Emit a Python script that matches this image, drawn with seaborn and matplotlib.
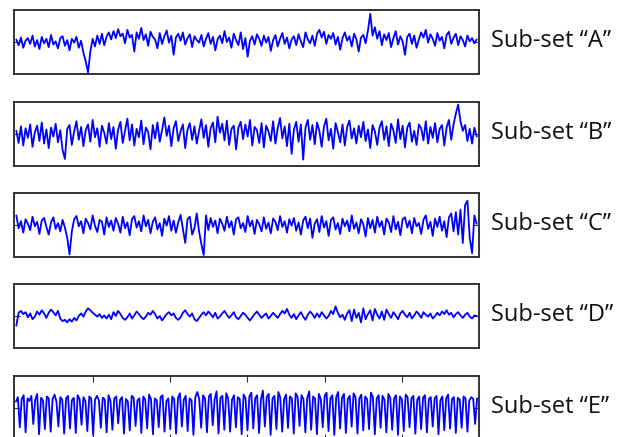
import numpy as np
import pandas as pd
import seaborn as sns
import matplotlib.pyplot as plt

# signal traces (amplitude, arbitrary units)
sub_a = [8, -10, 14, -18, 4, 12, -6, 20, -14, 6, -22, 16, -4, 10, -16, 22, -8, 2, -20, 12,
         18, -12, 6, -26, 10, -2, 16, -18, 4, -34, -60, -95, -30, 10, -14, 20, -6, 26, -10, 16,
         30, 8, 34, 12, 40, 18, 26, -4, 38, 14, 22, -30, 30, 10, 44, 6, 24, -12, 32, 16,
         8, -20, 28, -6, 18, 36, -2, 20, -40, 14, 26, 4, 30, -8, 12, 24, -16, 18, 6, -2,
         22, -14, 10, 28, -6, 16, -26, 8, 20, -4, 34, 0, 14, -18, 26, 6, -10, 30, -22, 12,
         -46, 4, 18, -8, 24, 10, -12, 20, -2, 16, -28, 6, 22, -14, 10, 28, -6, 14, -20, 8,
         18, -10, 24, 2, -16, 30, 8, -4, 20, -12, 26, 38, 14, 32, -6, 22, 10, 28, -8, 16,
         -24, 12, 30, 4, 18, -14, 26, 8, -30, 14, 22, -4, 36, 88, 20, 46, 10, 34, -10, 24,
         6, 28, -16, 12, 34, -8, 18, 2, -40, 16, 26, -6, 20, -18, 8, 30, 14, 38, -2, 24,
         10, -12, 28, 4, 16, -20, 22, 32, -6, 14, 26, -10, 18, 6, -14, 20, 2, 12, -4, 8]

sub_b = [10, -28, 24, -36, 18, -12, 30, -40, 6, 26, -22, 36, -30, 14, -44, 20, -8, 32, -26, 12,
         -50, -78, 16, 28, -34, 8, 40, -18, 22, -38, 12, 30, -24, 44, -10, 18, -40, 26, 4, -30,
         34, -16, 22, -46, 14, 38, -28, 10, 48, -20, 30, -36, 16, -10, 42, -32, 20, 6, -48, 28,
         -14, 36, -24, 12, 52, -6, 26, -38, 18, 40, -22, 8, 30, -44, 14, 34, -18, 24, -30, 10,
         46, -12, 28, -40, 18, 36, -26, 54, 4, 32, -20, 42, -34, 16, 26, -48, 20, 38, -16, 30,
         -8, 44, -36, 22, 12, -28, 34, -42, 26, 8, -22, 40, -30, 18, 50, -14, 24, -38, 32, -62,
         14, 38, -24, 30, -80, 20, 44, -18, 28, -32, 36, 10, -40, 24, 48, -20, 16, -46, 34, 6,
         -26, 30, -36, 22, 42, -14, 18, -30, 26, -10, 38, -22, 14, -44, 28, 8, -34, 20, 40, -18,
         24, -38, 32, 12, -28, 46, -16, 26, -42, 20, 36, -24, 10, -34, 30, 18, -20, 40, -30, 22,
         -12, 34, -26, 16, 28, -36, 20, 44, -18, 30, 64, 92, 40, 10, 28, -22, 16, -30, 20, -8]

sub_c = [30, -10, 12, -24, 18, 4, -16, 26, -4, 10, -28, 14, 22, -6, -30, 8, 24, -12, 6, -20,
         16, -8, -40, -92, -20, 18, 28, -4, 12, -26, 20, 6, -14, 30, -2, -22, 16, 10, -30, 24,
         -6, 14, -18, 22, 4, -24, 26, -10, 8, -32, 18, 28, -8, 12, -20, 30, -4, 16, -26, 10,
         24, -14, 6, -34, 20, -2, 28, -18, 14, -24, 8, 32, -12, -56, 18, 26, -30, -10, 36, -20,
         -60, -94, 30, -16, 22, -6, 14, -26, 20, 4, -18, 26, -8, 12, -30, 18, 24, -10, 6, -22,
         28, -4, 14, -28, 16, 2, -20, 24, -12, 8, -26, 20, 10, -16, 28, -6, 12, -24, 18, -2,
         22, -18, 8, -30, 14, 26, -10, 20, -40, 4, 18, -22, 28, -8, 12, -34, 16, 24, -14, 6,
         -28, 20, -4, 14, -20, 30, -12, 8, -26, 18, 2, -36, 22, -10, 16, -24, 26, -6, 12, -30,
         20, 8, -22, 28, -14, 10, -32, 18, 24, -8, 14, -26, 22, -4, 6, -28, 16, 30, -12, 10,
         -34, 20, -6, 26, -18, 12, -38, 24, 36, -20, 40, -30, 48, -56, 62, 76, -40, -88, 30, 4]

sub_d = [-30, 10, 16, 6, 12, -4, 8, -10, -2, 14, 4, 18, 8, -6, 10, 20, 12, 2, 16, -8,
         -16, -12, -20, -10, -18, -6, -14, 0, 8, -2, 14, 24, 18, 10, 4, -2, 6, -6, 2, -8,
         4, -10, 12, 0, 16, 6, -6, -12, -4, 8, -8, 2, 14, 6, -4, -10, -2, 10, 4, 16,
         6, -8, 0, -14, -4, 6, 12, 2, 8, -6, -12, -4, 10, 18, 6, -2, 8, -10, -16, -6,
         4, 12, 2, 14, 6, -4, 10, -8, -2, 8, 16, 4, -6, 2, 12, -4, -10, 0, 10, 4,
         -6, -14, -4, 6, 14, 4, -6, 2, 8, -8, 0, 10, 2, -6, 6, 16, 8, 22, 4, -6,
         6, -10, 2, 12, -2, -12, 4, 14, 6, -6, 8, -4, 12, 2, -8, 0, 16, 6, 30, 10,
         -4, 4, -12, 8, 18, -16, 20, -6, 10, -20, 24, -10, 6, 18, -14, 22, 4, -8, 14, -12,
         20, 6, -6, 12, 2, -10, 8, 16, 4, -4, 10, -8, 2, 14, 6, -6, 12, 4, -2, 8,
         -8, 0, 10, 2, 14, 6, 18, 4, 10, -4, 6, 12, 2, -6, 4, 10, -2, -8, 2, 0]

sub_e = [20, 34, -60, 28, 40, -76, 30, 22, 38, -50, 26, 44, -82, 32, 24, -66, 36, 30, -74, 28,
         42, 20, -58, 34, 26, -80, 30, 38, -64, 24, 32, -78, 40, 28, -52, 34, 22, -72, 36, 30,
         -84, 26, 38, 24, -62, 32, 28, -76, 40, 22, -68, 30, 36, -48, 26, 34, -80, 28, 20, -70,
         38, 32, -56, 24, 30, -78, 36, 26, -64, 42, 28, -82, 30, 24, -60, 34, 40, -74, 22, 30,
         -66, 36, 28, -80, 32, 46, -58, 26, 38, -72, 30, 24, -84, 34, 50, 28, -62, 40, 30, -76,
         36, 44, -54, 28, 52, -80, 32, 38, -68, 46, 30, -74, 26, 40, -60, 34, 28, -82, 42, 30,
         -70, 36, 48, -64, 30, 40, -78, 28, 54, -58, 34, 44, -84, 30, 38, -66, 50, 32, -74, 28,
         42, -62, 36, 30, -80, 46, 34, -56, 40, 28, -76, 32, 52, -68, 36, 30, -82, 44, 28, -60,
         38, 48, -72, 30, 40, -84, 34, 50, -64, 32, 44, -78, 28, 38, -58, 46, 34, -80, 30, 42,
         -70, 36, 28, -66, 48, 34, -82, 30, 40, -62, 38, 26, -76, 44, 32, -68, 30, 40, -84, 36,
         28, -72, 42, 34, -60, 30, 38, -80, 26, 36, -66, 32, 40, -76, 28, 34, -58, 30, 38, -82,
         24, 36, -70, 30, 42, -64, 28, 34, -78, 32, 26, -62, 36, 30, -74, 24, 34, 28, -50, 30]

labels = ["Sub-set \u201cA\u201d", "Sub-set \u201cB\u201d", "Sub-set \u201cC\u201d",
          "Sub-set \u201cD\u201d", "Sub-set \u201cE\u201d"]
signals = [sub_a, sub_b, sub_c, sub_d, sub_e]

sns.set_style("white")
plt.rcParams['font.family'] = ['Open Sans', 'DejaVu Sans']

W, H = 641, 437
fig = plt.figure(figsize=(W / 100, H / 100), dpi=100)

left_px, right_px = 14, 479
tops = [10, 102, 193, 284, 376]   # panel top edges in pixels
panel_h = 64

for k, (sig, lab) in enumerate(zip(signals, labels)):
    top = tops[k]
    ax = fig.add_axes([left_px / W, 1 - (top + panel_h) / H,
                       (right_px - left_px) / W, panel_h / H])
    df = pd.DataFrame({"t": np.arange(len(sig)), "v": sig})
    sns.lineplot(data=df, x="t", y="v", ax=ax, color="#0000ff", linewidth=1.3)
    ax.set_xlim(-1, len(sig))
    ax.set_ylim(-100, 100)
    ax.set_xlabel("")
    ax.set_ylabel("")
    ax.set_yticks([0])
    if k == 4:
        n = len(sig)
        ax.set_xticks([n * j / 6 for j in range(1, 6)])
        ax.tick_params(axis="x", direction="in", top=True, bottom=True, length=4, width=0.8,
                       labelbottom=False, colors="#333333")
    else:
        ax.set_xticks([])
    ax.tick_params(axis="y", direction="in", left=True, right=True, length=4, width=0.8,
                   labelleft=False, colors="#333333")
    for s in ax.spines.values():
        s.set_color("#333333")
        s.set_linewidth(1.4)
    fig.text(491 / W, 1 - (top + 37) / H, lab, fontsize=17, va="baseline",
             ha="left", color="#111111")

fig.savefig("out.png", dpi=100)
